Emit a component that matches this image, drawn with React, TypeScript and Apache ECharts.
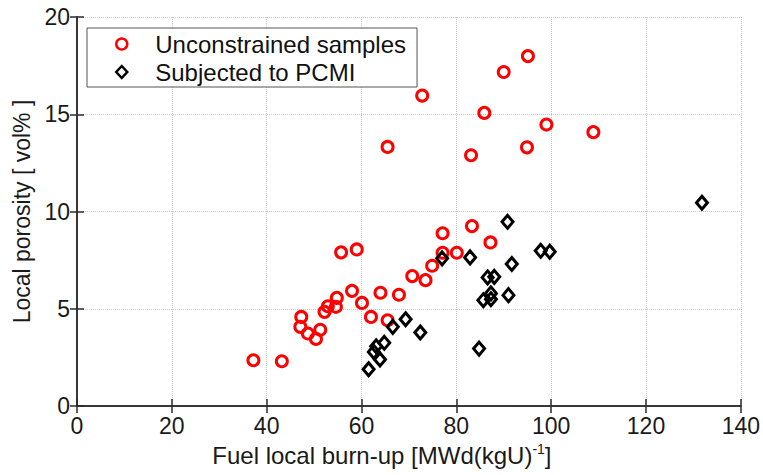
import React, { useEffect, useRef } from "react";
import * as echarts from "echarts";

const unconstrainedX = [37.2, 43.2, 47.1, 47.3, 48.7, 50.4, 51.3, 52.2, 52.9, 54.6, 54.8, 55.7, 59.0, 58.0, 60.1, 62.0, 64.0, 65.5, 67.9, 70.7, 73.5, 74.9, 77.1, 77.1, 80.1, 83.3, 87.2, 65.5, 72.8, 83.1, 85.9, 90.0, 95.1, 94.9, 99.0, 108.9];
const unconstrainedY = [2.35, 2.3, 4.07, 4.58, 3.73, 3.45, 3.92, 4.84, 5.13, 5.1, 5.56, 7.9, 8.05, 5.92, 5.3, 4.58, 5.82, 4.41, 5.72, 6.68, 6.47, 7.21, 7.88, 8.88, 7.88, 9.25, 8.41, 13.32, 15.96, 12.89, 15.07, 17.17, 17.99, 13.3, 14.47, 14.08];

const pcmiX = [61.5, 62.6, 63.1, 63.9, 64.8, 66.6, 69.3, 72.4, 77.0, 82.9, 84.8, 85.7, 86.6, 87.3, 87.3, 88.0, 91.0, 91.7, 90.8, 97.8, 99.7, 131.8];
const pcmiY = [1.89, 2.78, 3.07, 2.39, 3.25, 4.07, 4.46, 3.78, 7.59, 7.64, 2.95, 5.44, 6.61, 5.79, 5.49, 6.64, 5.7, 7.3, 9.47, 7.98, 7.93, 10.45];

const seriesNames = ["Unconstrained samples", "Subjected to PCMI"];
const xAxisName = "Fuel local burn-up [MWd(kgU){sup|-1}]";
const yAxisName = "Local porosity [ vol% ]";

const FONT = "'Liberation Sans', Arial, sans-serif";

export default function App() {
  const ref = useRef<HTMLDivElement>(null);
  useEffect(() => {
    if (!ref.current) return;
    const chart = echarts.init(ref.current, null, { renderer: "svg" });
    const zip = (xs: number[], ys: number[]) => xs.map((x, i) => [x, ys[i]]);
    const axisLine = { show: true, lineStyle: { color: "#2b2b2b", width: 1.5 } };
    const axisTick = { show: true, inside: true, length: 7, lineStyle: { color: "#2b2b2b", width: 1.5 } };
    const splitLine = { show: true, lineStyle: { color: "#c8c8c8", type: "dotted", width: 1 } };
    chart.setOption({
      animation: false,
      backgroundColor: "#ffffff",
      textStyle: { fontFamily: FONT },
      grid: { left: 77, right: 21, top: 17, bottom: 69, containLabel: false },
      legend: {
        show: true,
        orient: "vertical",
        left: 87,
        top: 28,
        itemWidth: 11,
        itemHeight: 12,
        itemGap: 4,
        padding: [4, 11, 3, 28],
        borderColor: "#555",
        borderWidth: 1,
        backgroundColor: "#fff",
        itemStyle: { borderWidth: 2.5 },
        textStyle: { fontSize: 24, lineHeight: 24, color: "#111", fontFamily: FONT, padding: [0, 0, 0, 23] },
        data: seriesNames,
      },
      xAxis: [
        {
          type: "value",
          min: 0,
          max: 140,
          interval: 20,
          position: "bottom",
          axisLine,
          axisTick,
          splitLine,
          axisLabel: { fontSize: 23, color: "#1a1a1a", margin: 8, fontFamily: FONT },
          name: xAxisName,
          nameLocation: "middle",
          nameGap: 36,
          nameTextStyle: {
            fontSize: 24,
            color: "#1a1a1a",
            fontFamily: FONT,
            padding: [0, 54, 0, 0],
            rich: { sup: { fontSize: 14, verticalAlign: "top", padding: [0, 0, 12, 0], color: "#1a1a1a", fontFamily: FONT } },
          },
        },
        {
          type: "value",
          min: 0,
          max: 140,
          interval: 20,
          position: "top",
          axisLine,
          axisTick,
          splitLine: { show: false },
          axisLabel: { show: false },
        },
      ],
      yAxis: [
        {
          type: "value",
          min: 0,
          max: 20,
          interval: 5,
          position: "left",
          axisLine,
          axisTick,
          splitLine,
          axisLabel: { fontSize: 23, color: "#1a1a1a", margin: 7, fontFamily: FONT },
          name: yAxisName,
          nameLocation: "middle",
          nameGap: 40,
          nameTextStyle: { fontSize: 23, color: "#1a1a1a", fontFamily: FONT },
        },
        {
          type: "value",
          min: 0,
          max: 20,
          interval: 5,
          position: "right",
          axisLine,
          axisTick,
          splitLine: { show: false },
          axisLabel: { show: false },
        },
      ],
      series: [
        {
          name: seriesNames[0],
          type: "scatter",
          symbol: "circle",
          symbolSize: 11,
          itemStyle: { color: "rgba(0,0,0,0)", borderColor: "#ff0000", borderWidth: 3, opacity: 1 },
          data: zip(unconstrainedX, unconstrainedY),
          z: 3,
        },
        {
          name: seriesNames[1],
          type: "scatter",
          symbol: "diamond",
          symbolSize: [11, 13],
          itemStyle: { color: "rgba(0,0,0,0)", borderColor: "#000000", borderWidth: 3, opacity: 1 },
          data: zip(pcmiX, pcmiY),
          z: 4,
        },
      ],
    });
    return () => chart.dispose();
  }, []);
  return <div ref={ref} style={{ position: "fixed", left: 0, top: 0, width: 763, height: 475 }} />;
}
